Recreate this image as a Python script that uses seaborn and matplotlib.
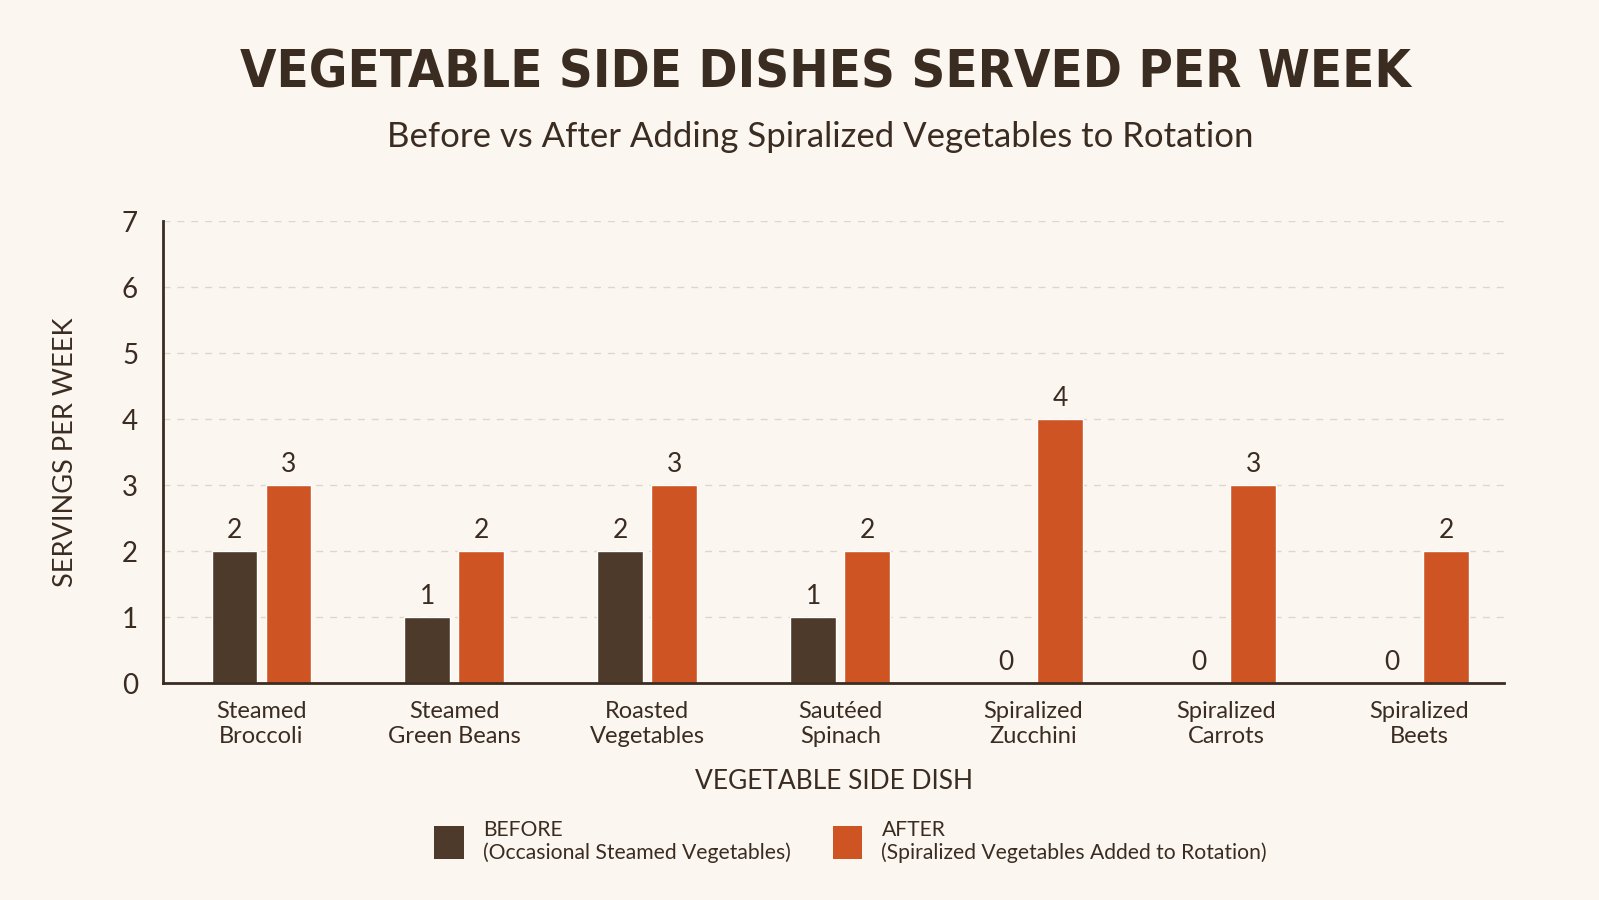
import pandas as pd
import seaborn as sns
import matplotlib.pyplot as plt
from matplotlib import font_manager
from matplotlib.patches import Patch

dishes = ["Steamed\nBroccoli", "Steamed\nGreen Beans", "Roasted\nVegetables", "Sautéed\nSpinach",
          "Spiralized\nZucchini", "Spiralized\nCarrots", "Spiralized\nBeets"]
before = [2, 1, 2, 1, 0, 0, 0]
after = [3, 2, 3, 2, 4, 3, 2]
periods = ["BEFORE", "AFTER"]
legend_labels = ["BEFORE\n(Occasional Steamed Vegetables)", "AFTER\n(Spiralized Vegetables Added to Rotation)"]
y_ticks = [0, 1, 2, 3, 4, 5, 6, 7]

bg = "#FBF7F0"
ink = "#3B2C22"
colors = {"BEFORE": "#4E3A2B", "AFTER": "#CF5424"}

df = pd.DataFrame({
    "dish": dishes * 2,
    "period": ["BEFORE"] * len(dishes) + ["AFTER"] * len(dishes),
    "servings": before + after,
})

# look for a condensed bold face for the title, else plain bold
title_font = None
for f in font_manager.fontManager.ttflist:
    st = str(f.stretch).lower()
    bold = f.weight in ("bold", 700, "heavy", 800) or str(f.weight) in ("700", "800")
    if bold and ("condensed" in st or "narrow" in f.name.lower() or "condensed" in f.name.lower()):
        title_font = font_manager.FontProperties(fname=f.fname)
        break
title_size = 37.7
if title_font is None:
    title_font = font_manager.FontProperties(family="Roboto", weight="bold")
    title_size = 34

sns.set_theme(style="white")
plt.rcParams["font.family"] = ["Lato", "DejaVu Sans"]
plt.rcParams["text.color"] = ink

fig = plt.figure(figsize=(15.99, 9), dpi=100, facecolor=bg)
ax = fig.add_axes([0.102, 0.241, 0.8386, 0.513])
ax.set_facecolor(bg)

sns.barplot(data=df, x="dish", y="servings", hue="period", hue_order=periods,
            palette=colors, width=0.56, gap=0.15, saturation=1, legend=False, ax=ax)

for cont in ax.containers:
    ax.bar_label(cont, fmt="%d", padding=6, fontsize=19, color=ink)

ax.set_ylim(0, 7)
ax.set_xlim(-0.51, 6.44)
ax.set_yticks(y_ticks)
ax.yaxis.grid(True, linestyle=(0, (5, 5)), color="#DDD6CC", linewidth=1)
ax.set_axisbelow(True)
ax.tick_params(axis="y", labelsize=20, colors=ink, length=0, pad=18)
ax.tick_params(axis="x", labelsize=17, colors=ink, length=0, pad=13)
for lab in ax.get_xticklabels():
    lab.set_linespacing(1.2)

for s in ["top", "right"]:
    ax.spines[s].set_visible(False)
for s in ["left", "bottom"]:
    ax.spines[s].set_color(ink)
    ax.spines[s].set_linewidth(2)

ax.set_xlabel("VEGETABLE SIDE DISH", fontsize=19, color=ink, labelpad=16)
ax.set_ylabel("SERVINGS PER WEEK", fontsize=19.5, color=ink, labelpad=32)

fig.text(0.516, 0.918, "VEGETABLE SIDE DISHES SERVED PER WEEK", ha="center", va="center",
         fontproperties=title_font, fontsize=title_size, color=ink)
fig.text(0.513, 0.848, "Before vs After Adding Spiralized Vegetables to Rotation",
         ha="center", va="center", fontsize=25, color=ink)

handles = [Patch(facecolor=colors[p], edgecolor="none") for p in periods]
fig.legend(handles, legend_labels, loc="center", bbox_to_anchor=(0.532, 0.065), ncol=2,
           frameon=False, fontsize=15.2, handlelength=1.4, handleheight=2.0,
           columnspacing=2.0, handletextpad=0.9, labelcolor=ink)

fig.savefig("out.png", dpi=100, facecolor=bg)
